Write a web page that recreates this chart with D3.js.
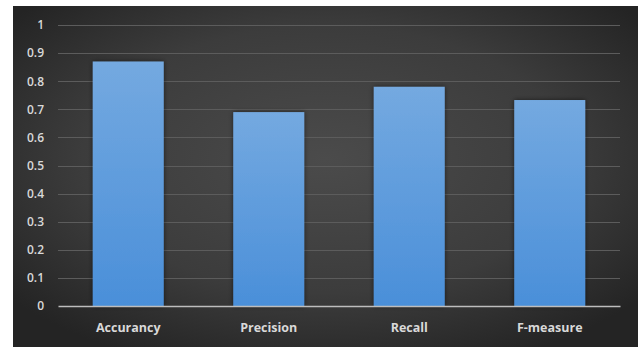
<!DOCTYPE html>
<html>
<head>
<meta charset="utf-8">
<script src="https://cdn.jsdelivr.net/npm/d3@7"></script>
<style>
  html, body { margin: 0; padding: 0; background: #ffffff; }
  svg { display: block; }
</style>
</head>
<body>
<svg id="chart" width="642" height="347"></svg>
<script>
// Evaluation metrics of the classifier
const categories = ["Accurancy", "Precision", "Recall", "F-measure"];
const values = [0.87, 0.69, 0.78, 0.733];
const yTicks = [0, 0.1, 0.2, 0.3, 0.4, 0.5, 0.6, 0.7, 0.8, 0.9, 1];
const yTickLabels = ["0", "0.1", "0.2", "0.3", "0.4", "0.5", "0.6", "0.7", "0.8", "0.9", "1"];

const svg = d3.select("#chart");
const W = 642, H = 347;
const panel = { x: 13, y: 6, w: 625, h: 341 };
const plot = { left: 58, right: 620, top: 25, bottom: 306 };

const defs = svg.append("defs");

// Dark radial backdrop, lighter toward the middle
const bg = defs.append("radialGradient").attr("id", "bgGrad")
  .attr("cx", "50%").attr("cy", "45%").attr("r", "65%");
bg.append("stop").attr("offset", "0%").attr("stop-color", "#4b4b4b");
bg.append("stop").attr("offset", "60%").attr("stop-color", "#3c3c3c");
bg.append("stop").attr("offset", "100%").attr("stop-color", "#242424");

// Bar fill: lighter blue at top
const barGrad = defs.append("linearGradient").attr("id", "barGrad")
  .attr("x1", 0).attr("y1", 0).attr("x2", 0).attr("y2", 1);
barGrad.append("stop").attr("offset", "0%").attr("stop-color", "#74a9e0");
barGrad.append("stop").attr("offset", "100%").attr("stop-color", "#4a8fd9");

const glow = defs.append("filter").attr("id", "barShadow")
  .attr("x", "-20%").attr("y", "-20%").attr("width", "140%").attr("height", "140%");
glow.append("feGaussianBlur").attr("in", "SourceAlpha").attr("stdDeviation", 2.5).attr("result", "b");
glow.append("feFlood").attr("flood-color", "#000").attr("flood-opacity", 0.55);
glow.append("feComposite").attr("in2", "b").attr("operator", "in").attr("result", "s");
const merge = glow.append("feMerge");
merge.append("feMergeNode").attr("in", "s");
merge.append("feMergeNode").attr("in", "SourceGraphic");

svg.append("rect")
  .attr("x", panel.x).attr("y", panel.y)
  .attr("width", panel.w).attr("height", panel.h)
  .attr("fill", "url(#bgGrad)");

const x = d3.scaleBand()
  .domain(categories)
  .range([plot.left, plot.right])
  .paddingInner(0.495)
  .paddingOuter(0.2475);

const y = d3.scaleLinear().domain([0, 1]).range([plot.bottom, plot.top]);

// Horizontal gridlines
svg.append("g")
  .selectAll("line")
  .data(yTicks.filter(t => t > 0))
  .join("line")
  .attr("x1", plot.left).attr("x2", plot.right)
  .attr("y1", d => Math.round(y(d)) + 0.5).attr("y2", d => Math.round(y(d)) + 0.5)
  .attr("stroke", "#5c5c5c").attr("stroke-width", 1);

// Y axis labels
const yAxis = d3.axisLeft(y)
  .tickValues(yTicks)
  .tickFormat((d, i) => yTickLabels[i])
  .tickSize(0)
  .tickPadding(0);
const gy = svg.append("g").attr("transform", `translate(${plot.left - 14},0)`).call(yAxis);
gy.select(".domain").remove();
gy.selectAll("text")
  .attr("fill", "#d9d9d9")
  .style("font-family", "'Open Sans', 'DejaVu Sans', sans-serif")
  .style("font-size", "12px")
  .style("font-weight", "600");

// Bars
svg.append("g")
  .selectAll("rect")
  .data(categories.map((c, i) => ({ c, v: values[i] })))
  .join("rect")
  .attr("x", d => x(d.c))
  .attr("y", d => y(d.v))
  .attr("width", x.bandwidth())
  .attr("height", d => y(0) - y(d.v))
  .attr("fill", "url(#barGrad)")
  .attr("filter", "url(#barShadow)");

// Category axis
const xAxis = d3.axisBottom(x).tickSize(0).tickPadding(0);
const gx = svg.append("g").attr("transform", `translate(0,${plot.bottom})`).call(xAxis);
gx.select(".domain")
  .attr("stroke", "#bdbdbd").attr("stroke-width", 1.5);
gx.selectAll("text")
  .attr("dy", "0")
  .attr("y", 26)
  .attr("fill", "#d9d9d9")
  .style("font-family", "'Open Sans', 'DejaVu Sans', sans-serif")
  .style("font-size", "12.5px")
  .style("font-weight", "700");
</script>
</body>
</html>
